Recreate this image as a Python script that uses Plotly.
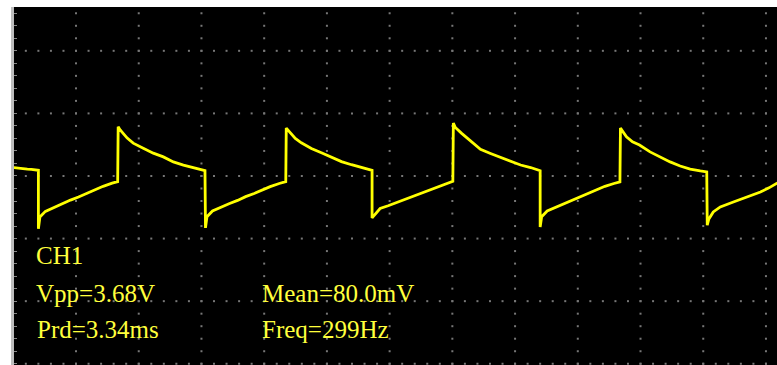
import plotly.graph_objects as go
import numpy as np

# ---- Data (time in ms, voltage in V) ----
time_ms = [0.00, 0.08, 0.18, 0.28, 0.36, 0.44, 0.49,
           0.50, 0.50, 0.53, 0.64, 0.80, 0.98, 1.14, 1.30, 1.47, 1.63, 1.79, 1.97, 2.08,
           2.09, 2.13, 2.27, 2.39, 2.59, 2.79, 2.99, 3.19, 3.39, 3.59, 3.77, 3.82,
           3.83, 3.86, 3.97, 4.13, 4.31, 4.47, 4.63, 4.80, 4.96, 5.12, 5.30, 5.43,
           5.44, 5.48, 5.62, 5.74, 5.94, 6.14, 6.34, 6.54, 6.74, 6.94, 7.12, 7.15,
           7.15, 7.18, 7.31, 7.47, 7.62, 7.80, 7.96, 8.13, 8.30, 8.46, 8.63, 8.76,
           8.77, 8.81, 8.93, 9.13, 9.31, 9.51, 9.71, 9.91, 10.11, 10.31, 10.47, 10.50,
           10.50, 10.53, 10.64, 10.80, 10.98, 11.14, 11.30, 11.47, 11.63, 11.79, 11.97, 12.09,
           12.10, 12.22, 12.34, 12.48, 12.69, 12.89, 13.09, 13.29, 13.49, 13.69, 13.82,
           13.83, 13.86, 13.95, 14.09, 14.35, 14.63, 14.89, 15.06, 15.15, 15.23]
volts = [0.27, 0.25, 0.24, 0.22, 0.21, 0.19, 0.18,
         0.18, -1.69, -1.31, -1.13, -1.01, -0.87, -0.77, -0.67, -0.55, -0.43, -0.33, -0.23, -0.18,
         1.57, 1.47, 1.21, 1.05, 0.89, 0.73, 0.61, 0.45, 0.35, 0.27, 0.19, 0.17,
         -1.66, -1.30, -1.12, -1.00, -0.88, -0.78, -0.66, -0.56, -0.44, -0.34, -0.24, -0.18,
         1.53, 1.45, 1.20, 1.06, 0.88, 0.74, 0.60, 0.46, 0.36, 0.28, 0.20, 0.18,
         -1.34, -1.28, -1.04, -0.95, -0.86, -0.76, -0.66, -0.56, -0.45, -0.35, -0.25, -0.17,
         1.69, 1.55, 1.37, 1.09, 0.85, 0.72, 0.60, 0.46, 0.35, 0.27, 0.19, 0.17,
         -1.63, -1.30, -1.12, -1.01, -0.88, -0.77, -0.67, -0.55, -0.44, -0.33, -0.24, -0.19,
         1.53, 1.25, 1.09, 0.99, 0.77, 0.61, 0.45, 0.32, 0.22, 0.16, 0.13,
         -1.57, -1.38, -1.15, -0.99, -0.83, -0.67, -0.51, -0.38, -0.29, -0.22]

channel_label = "CH1"
measure_labels = ["Vpp=3.68V", "Prd=3.34ms", "Mean=80.0mV", "Freq=299Hz"]

# screen scale: 1.25 ms/div horizontally, 2 V/div vertically
ms_per_div = 1.25
v_per_div = 2.0
x_range = [0.014, 15.22]
y_range = [-6.04, 5.40]

# ---- graticule dots ----
gx, gy = [], []
major_x = [ms_per_div * k for k in range(1, 13)]
minor_y = np.round(np.arange(-6.0, 5.21, v_per_div / 5), 3)
for xv in major_x:
    gx += [xv] * len(minor_y)
    gy += list(minor_y)
major_y = [-6, -4, -2, 0, 2, 4]
minor_x = np.round(np.arange(0.25, 15.01, ms_per_div / 5), 3)
for yv in major_y:
    gx += list(minor_x)
    gy += [yv] * len(minor_x)

fig = go.Figure()
fig.add_trace(go.Scatter(x=gx, y=gy, mode="markers",
                         marker=dict(symbol="square", size=2, color="#777777"),
                         hoverinfo="skip", showlegend=False))
fig.add_trace(go.Scatter(x=time_ms, y=volts, mode="lines",
                         line=dict(color="#ffff00", width=2.8),
                         showlegend=False))

font = dict(family="Liberation Serif, Times New Roman, serif", size=25, color="#ffff3c")
ann = [
    (0.0275, 0.306, channel_label),
    (0.0275, 0.200, measure_labels[0]),
    (0.0285, 0.100, measure_labels[1]),
    (0.3235, 0.200, measure_labels[2]),
    (0.3235, 0.100, measure_labels[3]),
]
for x, y, t in ann:
    fig.add_annotation(x=x, y=y, xref="paper", yref="paper", text=t, showarrow=False,
                       xanchor="left", yanchor="middle", font=font, borderpad=0)

fig.update_layout(
    width=777, height=365,
    margin=dict(l=14, r=0, t=7, b=0, pad=0),
    paper_bgcolor="white", plot_bgcolor="black",
    xaxis=dict(range=x_range, showgrid=False, zeroline=False, showticklabels=False,
               ticks="", showline=False, fixedrange=True),
    yaxis=dict(range=y_range, showgrid=False, zeroline=False, showticklabels=False,
               ticks="inside", tick0=0, dtick=v_per_div / 5, ticklen=3, tickwidth=1,
               tickcolor="#888888", showline=True, linecolor="#bdbdbd", linewidth=3,
               fixedrange=True),
)
fig.write_html("out.html", config={"displayModeBar": False},
               post_script="document.body.style.margin='0';document.body.style.overflow='hidden';")
